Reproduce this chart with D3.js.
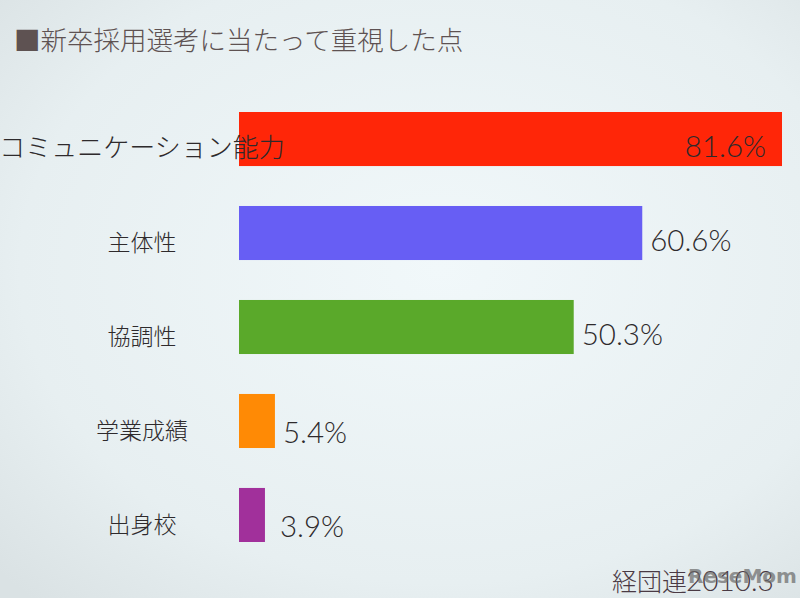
<!DOCTYPE html>
<html><head><meta charset="utf-8">
<script src="https://cdn.jsdelivr.net/npm/d3@7"></script>
<style>html,body{margin:0;padding:0;background:#e9f1f3;}svg{display:block;}</style>
</head><body>
<script>
const categories = ["コミュニケーション能力","主体性","協調性","学業成績","出身校"];
const values = [81.6, 60.6, 50.3, 5.4, 3.9];
const colors = ["#ff2608","#675ef4","#5aa92a","#ff8a05","#a1309b"];
const title = "■新卒採用選考に当たって重視した点";
const source = "経団連2010.3";

const W = 800, H = 598;
const svg = d3.select("body").append("svg").attr("width", W).attr("height", H);
const defs = svg.append("defs");
const g = defs.append("radialGradient").attr("id","bg").attr("cx","55%").attr("cy","45%").attr("r","75%");
g.append("stop").attr("offset","0%").attr("stop-color","#f1f8fa");
g.append("stop").attr("offset","70%").attr("stop-color","#e7eff1");
g.append("stop").attr("offset","100%").attr("stop-color","#dae2e4");
svg.append("rect").attr("width",W).attr("height",H).attr("fill","url(#bg)");

const x = d3.scaleLinear().domain([0, 81.6]).range([239, 782]);
const y = d3.scaleBand().domain(categories).range([112, 542]).paddingInner(0.425).paddingOuter(0);

const font = "'Noto Sans CJK JP', 'Noto Sans', sans-serif";

svg.append("text").attr("x", 14).attr("y", 50).attr("font-family", font)
  .attr("font-size", 26.5).attr("fill", "#5e5252").attr("font-weight", 300).text(title);

svg.selectAll("rect.bar").data(values).join("rect").attr("class","bar")
  .attr("x", x(0)).attr("y", (d,i)=>y(categories[i]))
  .attr("width", d=>x(d)-x(0)).attr("height", y.bandwidth())
  .attr("fill", (d,i)=>colors[i]);

svg.selectAll("text.cat").data(categories).join("text").attr("class","cat")
  .attr("x", 142).attr("y", d=>y(d)+y.bandwidth()/2+18)
  .attr("text-anchor","middle").attr("font-family", font)
  .attr("font-size", (d,i)=> i===0 ? 26 : 23).attr("font-weight", 300)
  .attr("fill","#2e2a2c").text(d=>d);

svg.selectAll("text.val").data(values).join("text").attr("class","val")
  .attr("x", (d,i)=> i===0 ? x(d)-16 : Math.max(x(d), x(0)+33) + 8)
  .attr("y", (d,i)=>y(categories[i])+y.bandwidth()/2 + (i>=3 ? 22 : 18))
  .attr("text-anchor", (d,i)=> i===0 ? "end" : "start")
  .attr("font-family","Lato, 'DejaVu Sans', sans-serif").attr("font-weight",300)
  .attr("font-size", 29.5).attr("fill","#2e2a2c").text(d=>d.toFixed(1)+"%");

svg.append("text").attr("x", 612).attr("y", 591).attr("font-family", font).attr("font-weight",300)
  .attr("font-size", 25).attr("fill","#4a3a44").text(source.slice(0,3));
svg.append("text").attr("x", 686).attr("y", 591).attr("font-family","Lato, sans-serif").attr("font-weight",300)
  .attr("font-size", 28).attr("fill","#4a3a44").text(source.slice(3));
svg.append("text").attr("x", 688).attr("y", 583).attr("font-family","'DejaVu Sans', sans-serif").attr("font-weight","bold")
  .attr("font-size", 20).attr("fill","#6a6a6a").attr("opacity",0.7).text("ReseMom");
</script>
</body></html>
